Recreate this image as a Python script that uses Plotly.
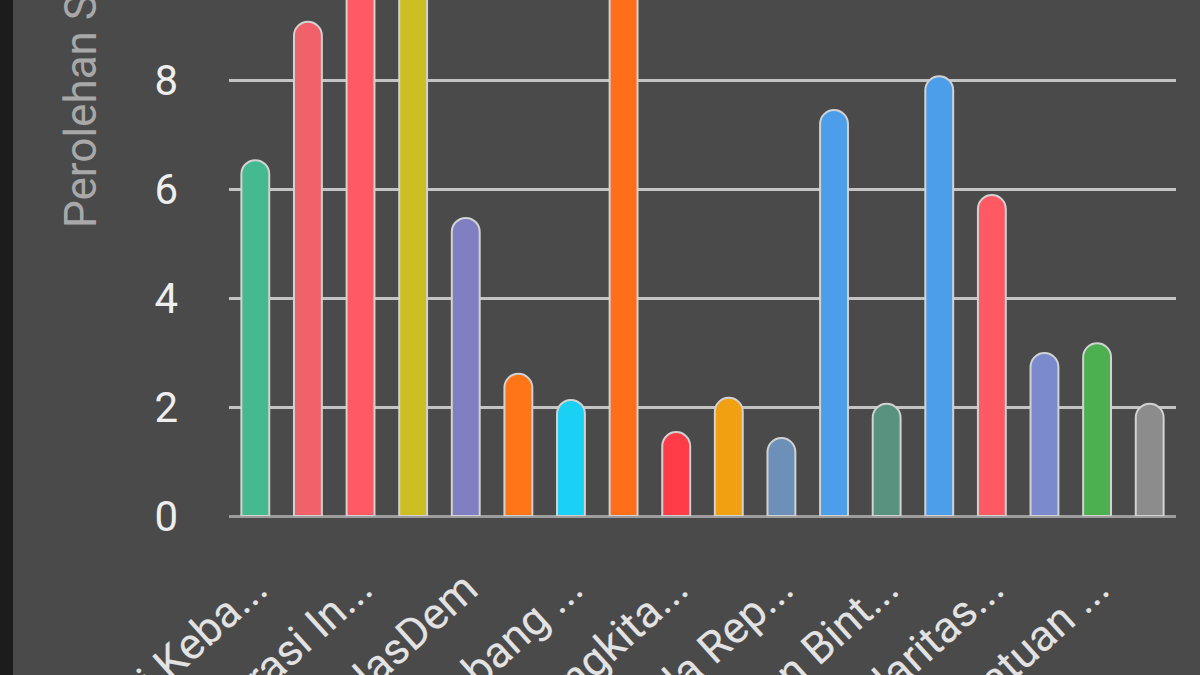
import plotly.graph_objects as go

# perolehan suara per partai (persen), urutan nomor partai
partai = [
    "Partai Kebangkitan Bangsa", "Partai Gerakan Indonesia Raya",
    "Partai Demokrasi Indonesia Perjuangan", "Partai Golongan Karya",
    "Partai NasDem", "Partai Buruh", "Partai Gelombang Rakyat Indonesia",
    "Partai Keadilan Sejahtera", "Partai Kebangkitan Nusantara",
    "Partai Hati Nurani Rakyat", "Partai Garda Republik Indonesia",
    "Partai Amanat Nasional", "Partai Bulan Bintang", "Partai Demokrat",
    "Partai Solidaritas Indonesia", "Partai Persatuan Indonesia",
    "Partai Persatuan Pembangunan", "Partai Ummat",
]
suara = [6.53, 9.07, 16.4, 15.2, 5.47, 2.61, 2.13, 11.8, 1.54,
         2.17, 1.43, 7.45, 2.06, 8.07, 5.89, 2.99, 3.17, 2.06]
warna = ["#45b98f", "#f0616a", "#ff5a64", "#cdbf22", "#7f7fc2", "#ff7518",
         "#1ad0f5", "#ff6f1a", "#ff3c48", "#f0a010", "#6c90b8", "#4c9eea",
         "#5a9280", "#4c9eea", "#ff5a64", "#7a8acc", "#4caf50", "#8c8c8c"]

# label sumbu x (hanya setiap partai kedua yang tampil, terpotong)
label_tampil = ["Partai Keba...", "Partai Demokrasi In...", "Partai NasDem",
                "Partai Gelombang ...", "Partai Kebangkita...",
                "Partai Garda Rep...", "Partai Bulan Bint...",
                "Partai Solidaritas...", "Partai Persatuan ..."]
y_ticks = [0, 2, 4, 6, 8]

bg = "#4a4a4a"

fig = go.Figure(go.Bar(
    x=partai,
    y=suara,
    marker=dict(color=warna, line=dict(color="#d2d2d2", width=2),
                cornerradius=14),
    hovertemplate="%{x}: %{y}%<extra></extra>",
))

fig.update_layout(
    width=1200, height=675,
    margin=dict(l=229, r=24, t=0, b=159),
    paper_bgcolor=bg, plot_bgcolor=bg,
    bargap=0.47,
    showlegend=False,
    font=dict(family="Roboto", color="#eeeeee"),
    xaxis=dict(
        tickvals=partai[::2], ticktext=label_tampil,
        tickangle=-42, tickfont=dict(size=44, color="#e2e2e2"),
        ticklabelstandoff=37,
        showgrid=False, zeroline=False, showline=False, ticks="",
        automargin=False, fixedrange=True,
    ),
    yaxis=dict(
        range=[0, 9.47], tickvals=y_ticks,
        tickfont=dict(size=42, color="#eeeeee"),
        ticklabelstandoff=50,
        gridcolor="#c4c4c4", gridwidth=2.5,
        zeroline=True, zerolinecolor="#9c9c9c", zerolinewidth=3,
        showline=False, ticks="", automargin=False, fixedrange=True,
    ),
    shapes=[dict(type="rect", xref="paper", yref="paper",
                 x0=-229 / 947, x1=-216 / 947, y0=-159 / 516, y1=1,
                 fillcolor="#1c1c1c", line=dict(width=0))],
    annotations=[dict(text="Perolehan Suara (%)", textangle=-90,
                      xref="paper", yref="paper",
                      x=(81 - 229) / 947, y=(516 - 230) / 516,
                      xanchor="center", yanchor="bottom", showarrow=False,
                      font=dict(size=44, color="#a8a8a8"))],
)

fig.write_html("out.html", config={"displayModeBar": False},
               post_script="document.body.style.margin='0';")
